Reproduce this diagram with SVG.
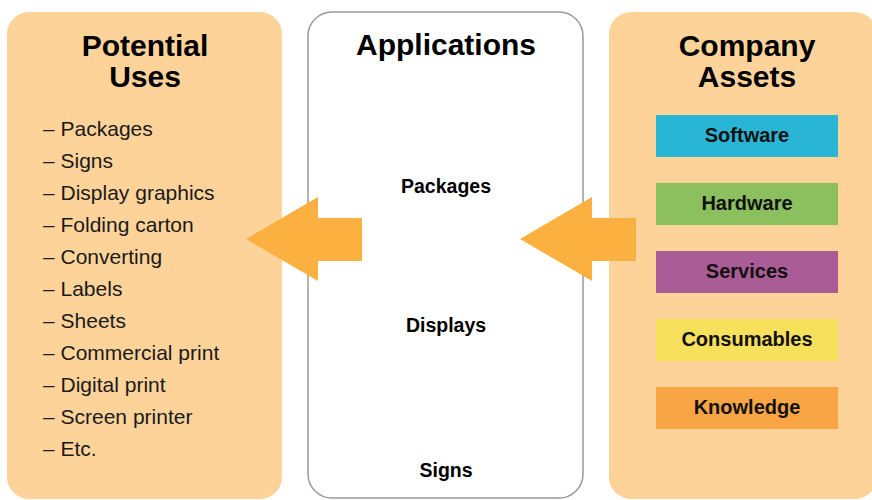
<svg xmlns="http://www.w3.org/2000/svg" width="872" height="500" viewBox="0 0 872 500">
<style>
.panel{fill:#FDD39A}
.title{font-family:"Liberation Sans",Arial,sans-serif;font-weight:bold;font-size:30px;fill:#000;text-anchor:middle}
.item{font-family:"Liberation Sans",Arial,sans-serif;font-size:21px;fill:#1a1a1a}
.app{font-family:"Liberation Sans",Arial,sans-serif;font-weight:bold;font-size:19.5px;fill:#000;text-anchor:middle}
.asset{font-family:"Liberation Sans",Arial,sans-serif;font-weight:bold;font-size:20px;fill:#111;text-anchor:middle}
.arrow{fill:#FBB040}
</style>
<rect width="872" height="500" fill="#fff"/>
<g id="potential-uses">
<rect class="panel" x="7" y="12" width="275" height="487" rx="22"/>
<text class="title" x="145" y="56">Potential</text>
<text class="title" x="145" y="87">Uses</text>
<text class="item" x="43" y="136">– Packages</text>
<text class="item" x="43" y="168">– Signs</text>
<text class="item" x="43" y="200">– Display graphics</text>
<text class="item" x="43" y="232">– Folding carton</text>
<text class="item" x="43" y="264">– Converting</text>
<text class="item" x="43" y="296">– Labels</text>
<text class="item" x="43" y="328">– Sheets</text>
<text class="item" x="43" y="360">– Commercial print</text>
<text class="item" x="43" y="392">– Digital print</text>
<text class="item" x="43" y="424">– Screen printer</text>
<text class="item" x="43" y="456">– Etc.</text>
</g>
<g id="applications">
<rect x="308" y="12" width="275" height="486" rx="24" fill="#fff" stroke="#9a9a9a" stroke-width="1.5"/>
<text class="title" x="446" y="55">Applications</text>
<text class="app" x="446" y="193">Packages</text>
<text class="app" x="446" y="332">Displays</text>
<text class="app" x="446" y="477">Signs</text>
</g>
<g id="company-assets">
<rect class="panel" x="609" y="12" width="268" height="487" rx="22"/>
<text class="title" x="747" y="56">Company</text>
<text class="title" x="747" y="87">Assets</text>
<g id="software"><rect x="656" y="115" width="182" height="42" fill="#29B6D6"/><text class="asset" x="747" y="142">Software</text></g>
<g id="hardware"><rect x="656" y="183" width="182" height="42" fill="#8CBF5E"/><text class="asset" x="747" y="210">Hardware</text></g>
<g id="services"><rect x="656" y="251" width="182" height="42" fill="#A95C96"/><text class="asset" x="747" y="278">Services</text></g>
<g id="consumables"><rect x="656" y="319" width="182" height="42" fill="#F7E05C"/><text class="asset" x="747" y="346">Consumables</text></g>
<g id="knowledge"><rect x="656" y="387" width="182" height="42" fill="#F9A543"/><text class="asset" x="747" y="414">Knowledge</text></g>
</g>
<g id="connectors">
<polygon class="arrow" points="246,239 318,197 318,218 362,218 362,261 318,261 318,281"/>
<polygon class="arrow" points="520,239 592,197 592,218 636,218 636,261 592,261 592,281"/>
</g>
</svg>
